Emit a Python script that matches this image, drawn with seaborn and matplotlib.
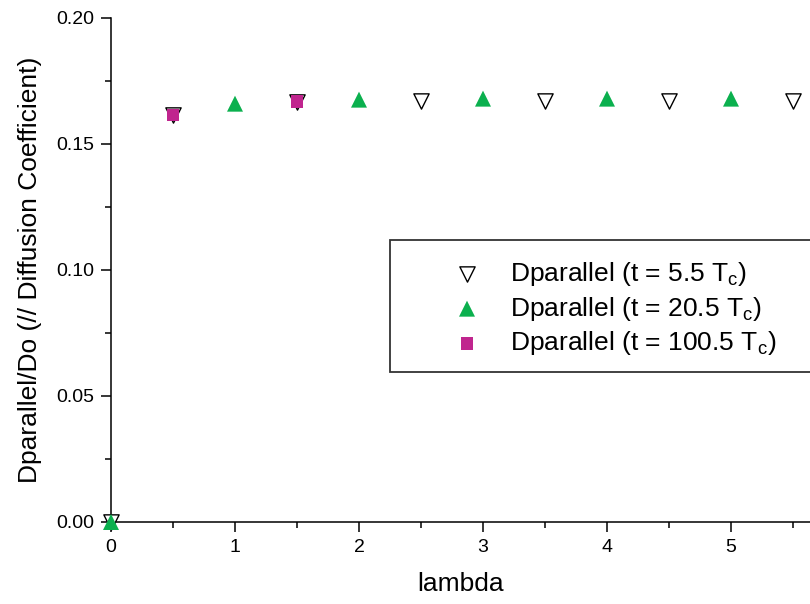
import matplotlib
matplotlib.use("Agg")
import matplotlib.pyplot as plt
import seaborn as sns
import pandas as pd
from matplotlib.ticker import MultipleLocator, FormatStrFormatter
from matplotlib.patches import Rectangle

# Data
x_t55 = [0.0, 0.5, 1.5, 2.5, 3.5, 4.5, 5.5]
y_t55 = [0.0, 0.1615, 0.1668, 0.1671, 0.1671, 0.1671, 0.1671]
x_t205 = [0.0, 1.0, 2.0, 3.0, 4.0, 5.0]
y_t205 = [0.0, 0.1660, 0.1676, 0.1680, 0.1680, 0.1680]
x_t1005 = [0.5, 1.5]
y_t1005 = [0.1615, 0.1668]
labels = ["Dparallel (t = 5.5 T$_\\mathregular{c}$)",
          "Dparallel (t = 20.5 T$_\\mathregular{c}$)",
          "Dparallel (t = 100.5 T$_\\mathregular{c}$)"]
xlabel = "lambda"
ylabel = "Dparallel/Do (// Diffusion Coefficient)"

sns.set_style("ticks")
plt.rcParams['font.family'] = ['Liberation Sans', 'DejaVu Sans']
plt.rcParams['mathtext.fontset'] = 'custom'
plt.rcParams['mathtext.rm'] = 'Liberation Sans'
plt.rcParams['text.color'] = 'black'
plt.rcParams['axes.labelcolor'] = 'black'

W, H = 810, 604
fig = plt.figure(figsize=(W / 100, H / 100), dpi=100)
ax = fig.add_axes([111/W, 1 - 522/H, 1 - 111/W, (522 - 18)/H])

d1 = pd.DataFrame({"x": x_t55, "y": y_t55})
d2 = pd.DataFrame({"x": x_t205, "y": y_t205})
d3 = pd.DataFrame({"x": x_t1005, "y": y_t1005})

sns.scatterplot(data=d1, x="x", y="y", ax=ax, marker="v", s=11**2,
                facecolor="white", edgecolor="black", linewidth=1.0,
                label=labels[0], clip_on=False, zorder=3)
sns.scatterplot(data=d2, x="x", y="y", ax=ax, marker="^", s=11.5**2,
                color="#0BB04E", edgecolor="none", linewidth=0,
                label=labels[1], clip_on=False, zorder=4)
sns.scatterplot(data=d3, x="x", y="y", ax=ax, marker="s", s=9.2**2,
                color="#C0258E", edgecolor="none", linewidth=0,
                label=labels[2], clip_on=False, zorder=5)

ax.set_xlim(0, 699/124)
ax.set_ylim(0, 0.20)
ax.xaxis.set_major_locator(MultipleLocator(1))
ax.xaxis.set_minor_locator(MultipleLocator(0.5))
ax.yaxis.set_major_locator(MultipleLocator(0.05))
ax.yaxis.set_minor_locator(MultipleLocator(0.025))
ax.yaxis.set_major_formatter(FormatStrFormatter("%.2f"))
ax.tick_params(which="major", direction="out", length=7, width=1.1,
               labelsize=14, pad=5, color="black", labelcolor="black")
ax.tick_params(which="minor", direction="out", length=4, width=1.1, color="black")

for s in ["top", "right"]:
    ax.spines[s].set_visible(False)
for s in ["left", "bottom"]:
    ax.spines[s].set_linewidth(1.1)
    ax.spines[s].set_color("black")

ax.set_xlabel(xlabel, fontsize=19, labelpad=12, color="black")
ax.set_ylabel(ylabel, fontsize=19, labelpad=10, color="black")

# legend frame (extends past the right edge like the reference)
fig.patches.append(Rectangle((390 / W, 1 - 372 / H), (830 - 390) / W, (372 - 240) / H,
                             transform=fig.transFigure, facecolor="white",
                             edgecolor="#333333", linewidth=1.3, zorder=6))

fs_px = 19 * 100 / 72
hl = 1.0
htp = (510 - 467 - hl * fs_px / 2) / fs_px
leg = fig.legend(loc="upper left", bbox_to_anchor=((467 - hl * fs_px / 2) / W, 1 - 260 / H),
                 fontsize=19, frameon=False, borderpad=0,
                 labelspacing=0.25, handletextpad=htp, borderaxespad=0,
                 handlelength=hl, labelcolor="black")
leg.set_zorder(7)
if ax.get_legend():
    ax.get_legend().remove()

fig.savefig("out.png", dpi=100)
